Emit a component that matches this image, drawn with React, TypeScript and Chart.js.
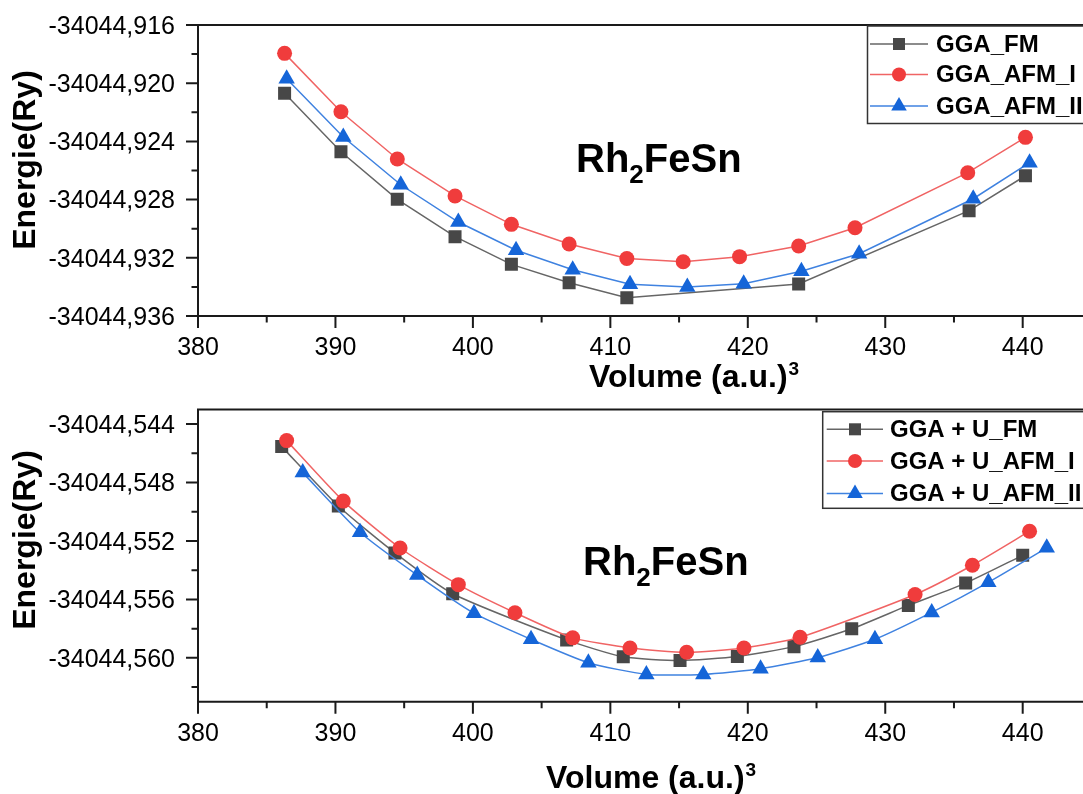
import React, { useEffect, useRef } from 'react';
import { Chart, registerables } from 'chart.js';

Chart.register(...registerables);

// ---------------- data ----------------
const X_MAJOR_TICKS = [380, 390, 400, 410, 420, 430, 440];
const X_MINOR_TICKS = [385, 395, 405, 415, 425, 435, 445];

const GGA_Y_MAJOR = [-34044.936, -34044.932, -34044.928, -34044.924, -34044.92, -34044.916];
const GGA_Y_MINOR = [-34044.934, -34044.93, -34044.926, -34044.922, -34044.918];
const GGAU_Y_MAJOR = [-34044.56, -34044.556, -34044.552, -34044.548, -34044.544];
const GGAU_Y_MINOR = [-34044.562, -34044.558, -34044.554, -34044.55, -34044.546];

const GGA_LABELS = ['GGA_FM', 'GGA_AFM_I', 'GGA_AFM_II'];
const GGAU_LABELS = ['GGA + U_FM', 'GGA + U_AFM_I', 'GGA + U_AFM_II'];

const COMPOUND = 'Rh2FeSn';
const Y_TITLE = 'Energie(Ry)';
const X_TITLE = 'Volume (a.u.)';
const X_TITLE_SUP = '3';

// GGA panel
const GGA_FM_VOLUME = [386.3, 390.4, 394.5, 398.7, 402.8, 407.0, 411.2, 423.7, 436.1, 440.2];
const GGA_FM_ENERGY = [
  -34044.92069, -34044.92471, -34044.92798, -34044.93055, -34044.93245, -34044.93371,
  -34044.93474, -34044.9338, -34044.92876, -34044.92636,
];
const GGA_AFM1_VOLUME = [386.3, 390.4, 394.5, 398.7, 402.8, 407.0, 411.2, 415.3, 419.4, 423.7, 427.8, 436.0, 440.2];
const GGA_AFM1_ENERGY = [
  -34044.91795, -34044.92196, -34044.92521, -34044.92775, -34044.9297, -34044.93105,
  -34044.93205, -34044.93227, -34044.93192, -34044.93119, -34044.92993, -34044.92615, -34044.92372,
];
const GGA_AFM2_VOLUME = [386.45, 390.57, 394.75, 398.94, 403.14, 407.26, 411.43, 415.6, 419.7, 423.9, 428.1, 436.4, 440.5];
const GGA_AFM2_ENERGY = [
  -34044.91969, -34044.9237, -34044.92698, -34044.92954, -34044.93148, -34044.93282,
  -34044.93381, -34044.93401, -34044.93378, -34044.93293, -34044.93172, -34044.92794, -34044.92546,
];

// GGA + U panel
const GGAU_FM_VOLUME = [386.09, 390.21, 394.33, 398.53, 406.82, 410.94, 415.07, 419.24, 423.36, 427.56, 431.68, 435.85, 440.0];
const GGAU_FM_ENERGY = [
  -34044.54554, -34044.54961, -34044.55282, -34044.55561, -34044.55877, -34044.55993,
  -34044.56018, -34044.55991, -34044.55923, -34044.55801, -34044.55641, -34044.55488, -34044.55298,
];
const GGAU_AFM1_VOLUME = [386.45, 390.57, 394.7, 398.94, 403.06, 407.26, 411.43, 415.55, 419.72, 423.8, 432.17, 436.34, 440.5];
const GGAU_AFM1_ENERGY = [
  -34044.54513, -34044.54927, -34044.55248, -34044.55499, -34044.55691, -34044.55863,
  -34044.55932, -34044.55962, -34044.55932, -34044.55859, -34044.55566, -34044.55366, -34044.55133,
];
const GGAU_AFM2_VOLUME = [387.62, 391.79, 395.95, 400.08, 404.23, 408.4, 412.62, 416.76, 420.93, 425.09, 429.25, 433.38, 437.5, 441.75];
const GGAU_AFM2_ENERGY = [
  -34044.54732, -34044.5514, -34044.55433, -34044.55694, -34044.55873, -34044.56033,
  -34044.56113, -34044.56113, -34044.56074, -34044.55998, -34044.55873, -34044.55689, -34044.55483, -34044.55247,
];

// ---------------- styles ----------------
const FONT = '"Liberation Sans", Arial, Helvetica, sans-serif';
const AXIS_COLOR = '#1a1a1a';
const SERIES_STYLE = [
  { line: '#666666', fill: '#474747', shape: 'rect', radius: 9.2, legendRadius: 8.5 },
  { line: '#f06464', fill: '#f03c3c', shape: 'circle', radius: 7.5, legendRadius: 7 },
  { line: '#3f82e0', fill: '#1565d8', shape: 'triangle', radius: 9.5, legendRadius: 9 },
];

const CANVAS_W = 1200;

const PANELS = [
  {
    canvasTop: 0,
    canvasH: 397,
    plotTop: 25,
    plotBottom: 316,
    yMin: -34044.936,
    yMax: -34044.916,
    yMajor: GGA_Y_MAJOR,
    yMinor: GGA_Y_MINOR,
    labels: GGA_LABELS,
    series: [
      [GGA_FM_VOLUME, GGA_FM_ENERGY],
      [GGA_AFM1_VOLUME, GGA_AFM1_ENERGY],
      [GGA_AFM2_VOLUME, GGA_AFM2_ENERGY],
    ],
    tension: 0,
    yTitle: { x: 35, y: 160 },
    xTitle: { x: 589, y: 386.5 },
    formula: { x: 576, y: 171.7 },
    legend: { left: 867.5, top: 26, bottom: 123.5, rows: [44, 74.5, 106], lineX0: 870, lineX1: 928, markerX: 899, textX: 936 },
  },
  {
    canvasTop: 390,
    canvasH: 404,
    plotTop: 19.5,
    plotBottom: 311.7,
    yMin: -34044.563,
    yMax: -34044.543,
    yMajor: GGAU_Y_MAJOR,
    yMinor: GGAU_Y_MINOR,
    labels: GGAU_LABELS,
    series: [
      [GGAU_FM_VOLUME, GGAU_FM_ENERGY],
      [GGAU_AFM1_VOLUME, GGAU_AFM1_ENERGY],
      [GGAU_AFM2_VOLUME, GGAU_AFM2_ENERGY],
    ],
    tension: 0.2,
    yTitle: { x: 35, y: 150 },
    xTitle: { x: 546, y: 398 },
    formula: { x: 583, y: 185 },
    legend: { left: 822.7, top: 21.7, bottom: 118.3, rows: [39.3, 71, 103.5], lineX0: 826.7, lineX1: 883, markerX: 855, textX: 890 },
  },
];

const PLOT_LEFT = 198;
const X_MIN = 380;
const X_MAX = 450;
const PX_PER_UNIT = 13.745;

function drawMarker(ctx: CanvasRenderingContext2D, shape: string, x: number, y: number, r: number, color: string) {
  ctx.save();
  ctx.fillStyle = color;
  ctx.beginPath();
  if (shape === 'rect') {
    const s = r * Math.SQRT1_2;
    ctx.rect(x - s, y - s, 2 * s, 2 * s);
  } else if (shape === 'circle') {
    ctx.arc(x, y, r, 0, Math.PI * 2);
  } else {
    ctx.moveTo(x, y - r);
    ctx.lineTo(x + Math.sin((2 * Math.PI) / 3) * r, y + r / 2);
    ctx.lineTo(x - Math.sin((2 * Math.PI) / 3) * r, y + r / 2);
    ctx.closePath();
  }
  ctx.fill();
  ctx.restore();
}

function makeFramePlugin(panel: any) {
  return {
    id: 'frame',
    afterDraw(chart: any) {
      const ctx: CanvasRenderingContext2D = chart.ctx;
      const { left, right, top, bottom } = chart.chartArea;
      const xs = chart.scales.x;
      const ys = chart.scales.y;
      ctx.save();
      // frame
      ctx.strokeStyle = AXIS_COLOR;
      ctx.lineWidth = 2;
      ctx.beginPath();
      ctx.moveTo(left, top);
      ctx.lineTo(right + 20, top);
      ctx.moveTo(left, top - 1);
      ctx.lineTo(left, bottom + 1);
      ctx.moveTo(left - 1, bottom);
      ctx.lineTo(right + 20, bottom);
      ctx.moveTo(right, top);
      ctx.lineTo(right, bottom);
      ctx.stroke();
      // ticks
      ctx.beginPath();
      X_MAJOR_TICKS.forEach((v) => {
        const px = xs.getPixelForValue(v);
        ctx.moveTo(px, bottom);
        ctx.lineTo(px, bottom + 12);
      });
      X_MINOR_TICKS.forEach((v) => {
        const px = xs.getPixelForValue(v);
        ctx.moveTo(px, bottom);
        ctx.lineTo(px, bottom + 6.5);
      });
      panel.yMajor.forEach((v: number) => {
        const py = ys.getPixelForValue(v);
        ctx.moveTo(left, py);
        ctx.lineTo(left - 12, py);
      });
      panel.yMinor.forEach((v: number) => {
        const py = ys.getPixelForValue(v);
        ctx.moveTo(left, py);
        ctx.lineTo(left - 6.5, py);
      });
      ctx.stroke();

      ctx.fillStyle = '#000';
      // y title
      ctx.save();
      ctx.translate(panel.yTitle.x, panel.yTitle.y);
      ctx.rotate(-Math.PI / 2);
      ctx.font = `bold 32px ${FONT}`;
      ctx.textAlign = 'center';
      ctx.textBaseline = 'alphabetic';
      ctx.fillText(Y_TITLE, 0, 0);
      ctx.restore();

      // x title
      ctx.textAlign = 'left';
      ctx.textBaseline = 'alphabetic';
      ctx.font = `bold 32px ${FONT}`;
      ctx.fillText(X_TITLE, panel.xTitle.x, panel.xTitle.y);
      const w = ctx.measureText(X_TITLE).width;
      ctx.font = `bold 19px ${FONT}`;
      ctx.fillText(X_TITLE_SUP, panel.xTitle.x + w + 1, panel.xTitle.y - 12);

      // compound formula
      const parts = [COMPOUND.slice(0, 2), COMPOUND.slice(2, 3), COMPOUND.slice(3)];
      let fx = panel.formula.x;
      ctx.font = `bold 40px ${FONT}`;
      ctx.fillText(parts[0], fx, panel.formula.y);
      fx += ctx.measureText(parts[0]).width;
      ctx.font = `bold 26px ${FONT}`;
      ctx.fillText(parts[1], fx, panel.formula.y + 11);
      fx += ctx.measureText(parts[1]).width;
      ctx.font = `bold 40px ${FONT}`;
      ctx.fillText(parts[2], fx, panel.formula.y);

      // legend
      const lg = panel.legend;
      ctx.fillStyle = '#fff';
      ctx.fillRect(lg.left, lg.top, 400, lg.bottom - lg.top);
      ctx.strokeStyle = '#333';
      ctx.lineWidth = 1.5;
      ctx.strokeRect(lg.left, lg.top, 400, lg.bottom - lg.top);
      chart.data.datasets.forEach((ds: any, i: number) => {
        const st = SERIES_STYLE[i];
        const ry = lg.rows[i];
        ctx.strokeStyle = st.line;
        ctx.lineWidth = 1.5;
        ctx.beginPath();
        ctx.moveTo(lg.lineX0, ry);
        ctx.lineTo(lg.lineX1, ry);
        ctx.stroke();
        drawMarker(ctx, st.shape, lg.markerX, ry, st.legendRadius, st.fill);
        ctx.fillStyle = '#000';
        ctx.font = `bold 24px ${FONT}`;
        ctx.textBaseline = 'middle';
        ctx.fillText(ds.label, lg.textX, ry + 1);
      });
      ctx.restore();
    },
  };
}

function fmtY(v: number) {
  return Number(v).toFixed(3).replace('.', ',');
}

function buildConfig(panel: any) {
  const plotRight = PLOT_LEFT + (X_MAX - X_MIN) * PX_PER_UNIT;
  const datasets = panel.series.map((s: number[][], i: number) => {
    const st = SERIES_STYLE[i];
    return {
      label: panel.labels[i],
      data: s[0].map((v, k) => ({ x: v, y: s[1][k] })),
      borderColor: st.line,
      borderWidth: 1.5,
      backgroundColor: st.fill,
      pointBackgroundColor: st.fill,
      pointBorderColor: st.fill,
      pointBorderWidth: 0,
      pointStyle: st.shape,
      pointRadius: st.radius,
      pointHoverRadius: st.radius,
      tension: panel.tension,
      fill: false,
      order: 3 - i,
    };
  });
  return {
    type: 'line',
    data: { datasets },
    options: {
      animation: false,
      responsive: false,
      devicePixelRatio: 1,
      layout: { padding: { top: panel.plotTop, left: 0, right: CANVAS_W - plotRight, bottom: 0 } },
      plugins: { legend: { display: false }, tooltip: { enabled: false }, title: { display: false } },
      scales: {
        x: {
          type: 'linear',
          min: X_MIN,
          max: X_MAX,
          position: 'bottom',
          afterBuildTicks: (s: any) => {
            s.ticks = X_MAJOR_TICKS.map((v) => ({ value: v }));
          },
          afterFit: (s: any) => {
            s.height = panel.canvasH - panel.plotBottom;
            s.paddingLeft = 0;
            s.paddingRight = 0;
            s.paddingTop = 0;
            s.paddingBottom = 0;
          },
          grid: { display: false, drawTicks: false },
          border: { display: false },
          ticks: {
            autoSkip: false,
            maxRotation: 0,
            padding: 17,
            color: '#000',
            font: { family: FONT, size: 25 },
            callback: (v: any) => String(v),
          },
        },
        y: {
          type: 'linear',
          min: panel.yMin,
          max: panel.yMax,
          afterBuildTicks: (s: any) => {
            s.ticks = panel.yMajor.map((v: number) => ({ value: v }));
          },
          afterFit: (s: any) => {
            s.width = PLOT_LEFT;
            s.paddingLeft = 0;
            s.paddingRight = 0;
            s.paddingTop = 0;
            s.paddingBottom = 0;
          },
          grid: { display: false, drawTicks: false },
          border: { display: false },
          ticks: {
            autoSkip: false,
            padding: 23,
            labelOffset: 2,
            color: '#000',
            font: { family: FONT, size: 25 },
            callback: (v: any) => fmtY(v),
          },
        },
      },
    },
    plugins: [makeFramePlugin(panel)],
  };
}

function Panel({ panel }: { panel: any }) {
  const ref = useRef<HTMLCanvasElement>(null);
  useEffect(() => {
    const chart = new Chart(ref.current as HTMLCanvasElement, buildConfig(panel) as any);
    return () => chart.destroy();
  }, [panel]);
  return (
    <canvas
      ref={ref}
      width={CANVAS_W}
      height={panel.canvasH}
      style={{ position: 'absolute', left: 0, top: panel.canvasTop, width: CANVAS_W, height: panel.canvasH }}
    />
  );
}

export default function App() {
  return (
    <div
      style={{
        position: 'absolute',
        left: 0,
        top: 0,
        width: 1083,
        height: 794,
        overflow: 'hidden',
        background: '#fff',
      }}
    >
      {PANELS.map((p, i) => (
        <Panel key={i} panel={p} />
      ))}
    </div>
  );
}
